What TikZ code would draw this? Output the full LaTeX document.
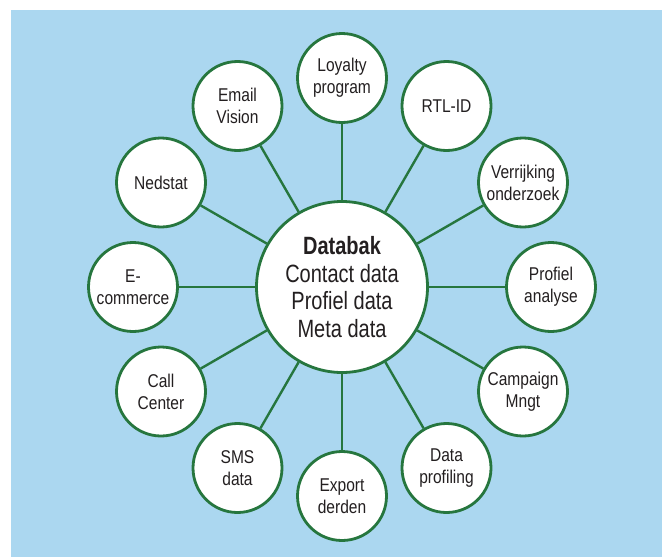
\documentclass[tikz,border=0pt]{standalone}
\usepackage{fontspec}
\setmainfont{Liberation Sans}[FakeStretch=0.84]
\newfontfamily\hubfont{Liberation Sans}[FakeStretch=0.8]
\begin{document}
\definecolor{skyback}{RGB}{171,215,240}
\definecolor{ringgreen}{RGB}{38,118,62}
\definecolor{inkgray}{RGB}{35,31,32}
\begin{tikzpicture}[x=1pt,y=-1pt,
  hub/.style={circle,draw=ringgreen,line width=2.8pt,fill=white,minimum size=171pt,
    inner sep=0pt,align=center,text=inkgray,font=\hubfont\fontsize{25}{27.5}\selectfont},
  spoke/.style={circle,draw=ringgreen,line width=2.8pt,fill=white,minimum size=89pt,
    inner sep=0pt,align=center,text=inkgray,font=\fontsize{18.5}{22}\selectfont},
  link/.style={draw=ringgreen,line width=2.4pt}]
\useasboundingbox (0,0) rectangle (662,557);
\fill[skyback] (11,10) rectangle (662,557);

% central database
\node[hub] (db) at (342,287) {\textbf{Databak}\\Contact data\\Profiel data\\Meta data};

% surrounding sources, every 30 degrees at 209 units from the centre
% (the y axis points down, so angles run clockwise)
\node[spoke] (loyal)  at ([shift={(-90:209)}]  db.center) {Loyalty\\program};
\node[spoke] (rtl)    at ([shift={(-60:209)}]  db.center) {RTL-ID};
\node[spoke] (verr)   at ([shift={(-30:209)}]  db.center) {Verrijking\\onderzoek};
\node[spoke] (prof)   at ([shift={(0:209)}]    db.center) {Profiel\\analyse};
\node[spoke] (camp)   at ([shift={(30:209)}]   db.center) {Campaign\\Mngt};
\node[spoke] (dprof)  at ([shift={(60:209)}]   db.center) {Data\\profiling};
\node[spoke] (export) at ([shift={(90:209)}]   db.center) {Export\\derden};
\node[spoke] (sms)    at ([shift={(120:209)}]  db.center) {SMS\\data};
\node[spoke] (call)   at ([shift={(150:209)}]  db.center) {Call\\Center};
\node[spoke] (ecom)   at ([shift={(180:209)}]  db.center) {E-\\commerce};
\node[spoke] (ned)    at ([shift={(-150:209)}] db.center) {Nedstat};
\node[spoke] (email)  at ([shift={(-120:209)}] db.center) {Email\\Vision};

% spokes from the hub to each source
\foreach \s in {loyal,rtl,verr,prof,camp,dprof,export,sms,call,ecom,ned,email}
  \draw[link] (db) -- (\s);
\end{tikzpicture}
\end{document}
